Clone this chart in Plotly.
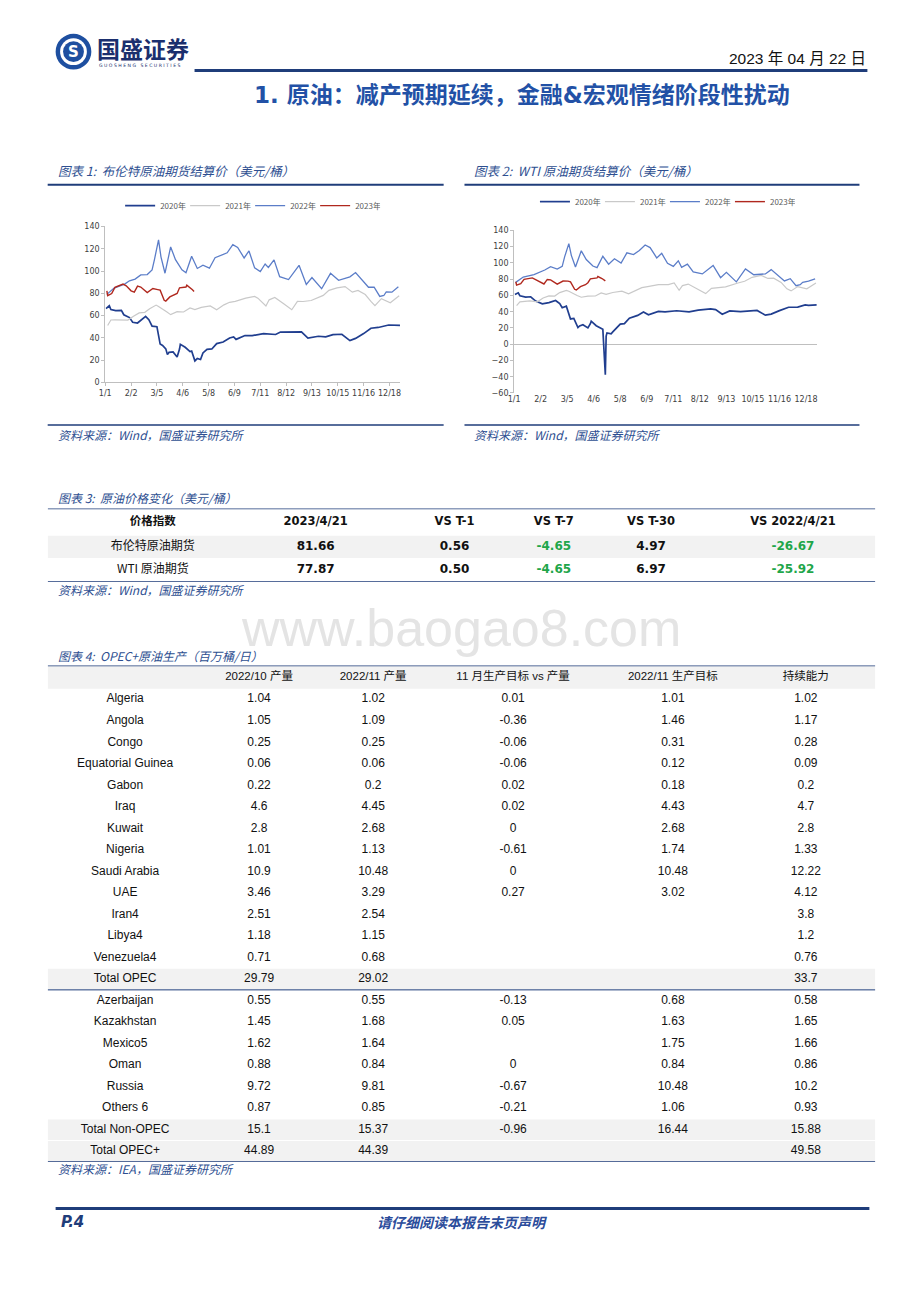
import plotly.graph_objects as go

# ---------------- DATA ----------------
TICK_DAYS = [0, 32, 64, 96, 128, 160, 192, 224, 256, 288, 320, 352]
TICK_LABELS = ["1/1", "2/2", "3/5", "4/6", "5/8", "6/9", "7/11", "8/12", "9/13", "10/15", "11/16", "12/18"]
SERIES_NAMES = ["2020年", "2021年", "2022年", "2023年"]

BRENT_2020_DAY = [1, 5, 7, 13, 20, 23, 30, 34, 40, 50, 54, 58, 64, 68, 71, 75, 77, 79, 84, 89, 92, 93, 99, 105, 107, 111, 114, 118, 121, 126, 132, 138, 146, 154, 159, 162, 173, 182, 196, 211, 217, 232, 243, 251, 258, 264, 273, 282, 293, 303, 310, 320, 329, 338, 351, 357, 365]
BRENT_2020_VAL = [66.3, 68.9, 65.4, 64.5, 64.6, 60.7, 58.2, 54.0, 53.3, 59.3, 56.3, 50.5, 50.0, 34.4, 33.2, 30.1, 24.9, 27.0, 27.4, 22.8, 29.9, 34.1, 31.5, 27.7, 28.1, 19.3, 21.4, 20.5, 26.4, 29.7, 30.0, 34.8, 36.2, 39.8, 40.8, 38.6, 42.1, 42.0, 43.8, 43.0, 45.2, 44.9, 45.3, 39.8, 40.5, 41.4, 40.9, 42.9, 43.2, 37.5, 39.5, 43.8, 48.6, 49.3, 51.5, 51.2, 51.1]
BRENT_2021_DAY = [3, 7, 12, 20, 28, 35, 42, 49, 55, 63, 66, 76, 81, 89, 97, 105, 111, 119, 130, 138, 147, 154, 161, 174, 185, 189, 199, 203, 210, 221, 231, 238, 245, 255, 270, 277, 287, 297, 306, 313, 322, 329, 334, 342, 353, 364]
BRENT_2021_VAL = [51.1, 56.0, 56.1, 56.1, 55.9, 59.3, 62.4, 62.9, 66.1, 69.4, 68.2, 63.3, 60.8, 63.5, 63.2, 66.8, 65.4, 67.3, 68.6, 65.1, 69.6, 71.9, 72.7, 75.6, 77.2, 75.6, 68.6, 74.1, 76.3, 70.6, 65.2, 72.7, 72.6, 73.5, 78.1, 82.6, 84.9, 86.0, 81.0, 82.6, 78.9, 72.7, 68.9, 75.2, 71.5, 77.8]
BRENT_2022_DAY = [2, 11, 24, 30, 37, 44, 52, 58, 61, 66, 69, 74, 81, 87, 95, 100, 107, 114, 121, 129, 136, 144, 151, 158, 164, 172, 178, 185, 192, 198, 202, 209, 216, 227, 240, 249, 256, 268, 279, 289, 303, 310, 317, 326, 333, 340, 345, 348, 355, 363]
BRENT_2022_VAL = [79.0, 84.7, 88.2, 91.2, 92.7, 96.5, 96.8, 101.0, 110.5, 128.0, 112.7, 98.0, 121.6, 110.2, 101.1, 98.5, 113.2, 102.3, 105.2, 102.5, 111.9, 114.0, 116.3, 123.6, 121.2, 111.7, 118.0, 102.8, 99.5, 106.3, 103.2, 110.0, 94.9, 92.3, 105.1, 88.0, 94.1, 84.1, 97.9, 91.6, 94.8, 98.6, 93.1, 85.4, 85.4, 77.2, 78.0, 81.2, 81.0, 85.9]
BRENT_2023_DAY = [2, 3, 8, 12, 22, 26, 32, 36, 40, 44, 52, 59, 65, 68, 73, 75, 80, 86, 89, 92, 100, 101, 106, 108, 110]
BRENT_2023_VAL = [82.1, 77.8, 79.7, 85.3, 88.2, 86.7, 82.2, 81.0, 86.4, 85.6, 80.6, 84.3, 83.3, 82.8, 73.7, 73.0, 76.7, 78.7, 79.8, 84.9, 85.6, 87.3, 84.8, 83.1, 81.66]

WTI_2020_DAY = [1, 5, 7, 14, 20, 26, 34, 42, 50, 55, 58, 63, 68, 72, 77, 79, 83, 89, 92, 93, 99, 104, 107, 110, 111, 112, 117, 119, 124, 128, 133, 139, 149, 156, 162, 174, 182, 196, 211, 222, 237, 243, 251, 260, 273, 282, 293, 303, 310, 320, 331, 342, 351, 355, 365]
WTI_2020_VAL = [61.2, 63.3, 59.6, 58.0, 58.4, 53.1, 49.6, 51.2, 53.8, 49.9, 44.8, 46.8, 31.1, 31.7, 20.4, 22.4, 24.0, 20.1, 25.3, 28.3, 22.8, 20.1, 18.3, -37.6, 10.0, 13.8, 12.8, 15.1, 20.4, 24.7, 25.3, 32.0, 35.5, 39.6, 36.3, 40.4, 39.8, 41.2, 39.9, 41.9, 43.4, 42.6, 36.8, 41.0, 40.2, 40.6, 41.5, 35.8, 37.1, 41.3, 45.5, 45.6, 48.4, 47.7, 48.5]
WTI_2021_DAY = [3, 7, 19, 28, 35, 42, 49, 55, 63, 66, 76, 81, 89, 98, 105, 111, 119, 130, 138, 147, 154, 161, 174, 186, 193, 199, 203, 210, 221, 231, 238, 245, 255, 270, 278, 287, 298, 306, 313, 322, 329, 334, 342, 353, 364]
WTI_2021_VAL = [47.6, 52.2, 53.3, 52.2, 56.9, 59.5, 59.2, 63.5, 66.1, 65.1, 60.0, 57.8, 59.2, 59.3, 63.1, 61.4, 63.6, 65.3, 62.1, 66.3, 69.6, 70.9, 73.3, 73.4, 75.3, 66.4, 72.1, 74.0, 68.3, 62.3, 68.7, 69.3, 70.5, 75.3, 77.4, 82.3, 84.7, 80.9, 81.3, 76.1, 68.2, 65.6, 70.9, 68.2, 75.2]
WTI_2022_DAY = [2, 11, 24, 30, 37, 44, 52, 58, 61, 66, 69, 74, 81, 87, 95, 100, 107, 114, 121, 129, 136, 144, 151, 158, 164, 172, 178, 185, 192, 198, 202, 209, 216, 227, 240, 249, 256, 268, 279, 289, 303, 310, 317, 326, 333, 340, 345, 348, 355, 363]
WTI_2022_VAL = [76.1, 82.6, 85.6, 88.2, 91.3, 95.5, 92.4, 95.7, 107.7, 123.7, 109.3, 95.0, 114.9, 104.2, 96.2, 94.3, 108.2, 98.5, 105.2, 99.8, 112.4, 110.3, 115.3, 122.1, 118.9, 106.2, 111.8, 99.5, 95.8, 102.6, 94.7, 98.6, 89.0, 86.5, 97.0, 81.9, 88.5, 76.7, 92.6, 85.5, 86.5, 91.8, 85.9, 77.9, 80.6, 72.0, 73.2, 76.1, 77.5, 80.3]
WTI_2023_DAY = [2, 3, 8, 12, 22, 26, 32, 36, 40, 44, 52, 59, 65, 68, 73, 75, 80, 86, 89, 92, 100, 101, 106, 108, 110]
WTI_2023_VAL = [76.9, 72.8, 74.6, 79.9, 81.6, 79.7, 75.9, 74.1, 79.7, 79.1, 74.0, 77.7, 77.6, 76.7, 67.6, 66.7, 70.9, 73.2, 75.7, 80.4, 81.5, 83.3, 80.8, 79.2, 77.87]

# Table 3
T3_HEADER = ["价格指数", "2023/4/21", "VS T-1", "VS T-7", "VS T-30", "VS 2022/4/21"]
T3_NAMES = ["布伦特原油期货", "WTI 原油期货"]
T3_PRICE = [81.66, 77.87]
T3_VS_T1 = [0.56, 0.50]
T3_VS_T7 = [-4.65, -4.65]
T3_VS_T30 = [4.97, 6.97]
T3_VS_YOY = [-26.67, -25.92]

# Table 4
T4_HEADER = ["", "2022/10 产量", "2022/11 产量", "11 月生产目标 vs 产量", "2022/11 生产目标", "持续能力"]
COUNTRIES = ["Algeria", "Angola", "Congo", "Equatorial Guinea", "Gabon", "Iraq", "Kuwait", "Nigeria",
             "Saudi Arabia", "UAE", "Iran4", "Libya4", "Venezuela4", "Total OPEC", "Azerbaijan",
             "Kazakhstan", "Mexico5", "Oman", "Russia", "Others 6", "Total Non-OPEC", "Total OPEC+"]
PROD_2022_10 = [1.04, 1.05, 0.25, 0.06, 0.22, 4.6, 2.8, 1.01, 10.9, 3.46, 2.51, 1.18, 0.71, 29.79, 0.55, 1.45, 1.62, 0.88, 9.72, 0.87, 15.1, 44.89]
PROD_2022_11 = [1.02, 1.09, 0.25, 0.06, 0.2, 4.45, 2.68, 1.13, 10.48, 3.29, 2.54, 1.15, 0.68, 29.02, 0.55, 1.68, 1.64, 0.84, 9.81, 0.85, 15.37, 44.39]
TARGET_VS_PROD = [0.01, -0.36, -0.06, -0.06, 0.02, 0.02, 0, -0.61, 0, 0.27, None, None, None, None, -0.13, 0.05, None, 0, -0.67, -0.21, -0.96, None]
TARGET_2022_11 = [1.01, 1.46, 0.31, 0.12, 0.18, 4.43, 2.68, 1.74, 10.48, 3.02, None, None, None, None, 0.68, 1.63, 1.75, 0.84, 10.48, 1.06, 16.44, None]
CAPACITY = [1.02, 1.17, 0.28, 0.09, 0.2, 4.7, 2.8, 1.33, 12.22, 4.12, 3.8, 1.2, 0.76, 33.7, 0.58, 1.65, 1.66, 0.86, 10.2, 0.93, 15.88, 49.58]
T4_SHADED = ["Total OPEC", "Total Non-OPEC", "Total OPEC+"]

# ---------------- STYLE ----------------
W, H = 920, 1302
NAVY = "#1F3D7A"
TITLE_BLUE = "#2251A6"
CAP_BLUE = "#2E4F91"
GRAY_BG = "#F2F2F2"
GREEN = "#1FA64A"
CJK = "Noto Sans CJK SC"
LAT = "Liberation Sans"
VER = "DejaVu Sans"
COLORS = ["#203E8F", "#C9C9C9", "#5B7DC8", "#B0281E"]
WIDTHS = [1.7, 1.2, 1.3, 1.4]


def X(px):
    return px / W


def Y(py):
    return 1 - py / H


fig = go.Figure()

# ---------------- LINE CHARTS ----------------
brent = [(BRENT_2020_DAY, BRENT_2020_VAL), (BRENT_2021_DAY, BRENT_2021_VAL),
         (BRENT_2022_DAY, BRENT_2022_VAL), (BRENT_2023_DAY, BRENT_2023_VAL)]
wti = [(WTI_2020_DAY, WTI_2020_VAL), (WTI_2021_DAY, WTI_2021_VAL),
       (WTI_2022_DAY, WTI_2022_VAL), (WTI_2023_DAY, WTI_2023_VAL)]

for i, (d, v) in enumerate(brent):
    fig.add_trace(go.Scatter(x=d, y=v, mode="lines", name=SERIES_NAMES[i],
                             line=dict(color=COLORS[i], width=WIDTHS[i]),
                             xaxis="x", yaxis="y", legend="legend", hoverinfo="skip"))
for i, (d, v) in enumerate(wti):
    fig.add_trace(go.Scatter(x=d, y=v, mode="lines", name=SERIES_NAMES[i],
                             line=dict(color=COLORS[i], width=WIDTHS[i]),
                             xaxis="x2", yaxis="y2", legend="legend2", hoverinfo="skip"))

tickfont = dict(family=VER, size=8, color="#404040")
axis_common = dict(showgrid=False, showline=True, linecolor="#BFBFBF", linewidth=1,
                   ticks="outside", ticklen=3, tickcolor="#BFBFBF", tickfont=tickfont)

fig.update_layout(
    xaxis=dict(domain=[X(100), X(397)], range=[0, 365], tickvals=TICK_DAYS, ticktext=TICK_LABELS,
               tickangle=0, anchor="y", zeroline=False, **axis_common),
    yaxis=dict(domain=[Y(381), Y(224)], range=[0, 140], dtick=20, anchor="x", zeroline=False,
               **axis_common),
    xaxis2=dict(domain=[X(512), X(817)], range=[0, 365], tickvals=TICK_DAYS, ticktext=TICK_LABELS,
                tickangle=0, anchor="y2", zeroline=False, showgrid=False, showline=False, ticks="",
                tickfont=tickfont),
    yaxis2=dict(domain=[Y(391.7), Y(228)], range=[-60, 140], dtick=20, anchor="x2",
                zeroline=True, zerolinecolor="#BFBFBF", zerolinewidth=1, **axis_common),
)

legend_common = dict(orientation="h", xanchor="center", yanchor="middle", itemwidth=30,
                     entrywidth=20, entrywidthmode="pixels",
                     font=dict(family=CJK, size=8, color="#595959"), bgcolor="rgba(0,0,0,0)",
                     tracegroupgap=0, itemclick=False)
fig.update_layout(legend=dict(x=X(246), y=Y(203), **legend_common),
                  legend2=dict(x=X(664), y=Y(199), **legend_common))

# ---------------- TABLE 3 ----------------
T3_COLS = [148, 312, 452, 552, 650, 793]
T3_TOP, T3_HDR, T3_BOT = 508, 535.5, 582
t3_rh = (T3_BOT - T3_HDR) / len(T3_NAMES)
t3_row_y = [T3_HDR + t3_rh * (i + 0.5) for i in range(len(T3_NAMES))]

fig.add_trace(go.Scatter(x=T3_COLS, y=[(T3_TOP + T3_HDR) / 2] * 6, mode="text", text=T3_HEADER,
                         textfont=dict(family=f"{VER}, {CJK}", size=11.5, color="#111", weight="bold"),
                         xaxis="x3", yaxis="y3", showlegend=False, hoverinfo="skip"))
fig.add_trace(go.Scatter(x=[T3_COLS[0]] * 2, y=t3_row_y, mode="text", text=T3_NAMES,
                         textfont=dict(family=CJK, size=12, color="#111"),
                         xaxis="x3", yaxis="y3", showlegend=False, hoverinfo="skip"))
for ci, col in enumerate([T3_PRICE, T3_VS_T1, T3_VS_T7, T3_VS_T30, T3_VS_YOY]):
    fig.add_trace(go.Scatter(
        x=[T3_COLS[ci + 1]] * len(col), y=t3_row_y, mode="text",
        text=[f"{v:.2f}" for v in col],
        textfont=dict(family=VER, size=12, weight="bold",
                      color=[GREEN if v < 0 else "#111" for v in col]),
        xaxis="x3", yaxis="y3", showlegend=False, hoverinfo="skip"))

hidden = dict(visible=False, showgrid=False, zeroline=False, fixedrange=True)
fig.update_layout(
    xaxis3=dict(domain=[X(42), X(876)], range=[42, 876], anchor="y3", **hidden),
    yaxis3=dict(domain=[Y(T3_BOT), Y(T3_TOP)], range=[T3_BOT, T3_TOP], anchor="x3", **hidden),
)

shapes = []
shapes.append(dict(type="rect", xref="x3", yref="y3", x0=42, x1=876, y0=T3_HDR, y1=T3_HDR + t3_rh - 1,
                   fillcolor=GRAY_BG, line_width=0, layer="below"))
shapes.append(dict(type="line", xref="x3", yref="y3", x0=42, x1=876, y0=T3_TOP, y1=T3_TOP,
                   line=dict(color=NAVY, width=1.5)))
shapes.append(dict(type="line", xref="x3", yref="y3", x0=42, x1=876, y0=T3_BOT, y1=T3_BOT,
                   line=dict(color=NAVY, width=1.5)))

# ---------------- TABLE 4 ----------------
T4_COLS = [120, 255, 370, 511, 672, 806]
T4_TOP, T4_HDR, T4_BOT = 666, 689.5, 1166
t4_rh = (T4_BOT - T4_HDR) / len(COUNTRIES)
t4_row_y = [T4_HDR + t4_rh * (i + 0.5) for i in range(len(COUNTRIES))]

fig.add_trace(go.Scatter(x=T4_COLS[1:], y=[(T4_TOP + T4_HDR) / 2] * 5, mode="text", text=T4_HEADER[1:],
                         textfont=dict(family=f"{LAT}, {CJK}", size=11.5, color="#111"),
                         xaxis="x4", yaxis="y4", showlegend=False, hoverinfo="skip"))
fig.add_trace(go.Scatter(x=[T4_COLS[0]] * len(COUNTRIES), y=t4_row_y, mode="text", text=COUNTRIES,
                         textfont=dict(family=LAT, size=12, color="#111"),
                         xaxis="x4", yaxis="y4", showlegend=False, hoverinfo="skip"))
for ci, col in enumerate([PROD_2022_10, PROD_2022_11, TARGET_VS_PROD, TARGET_2022_11, CAPACITY]):
    fig.add_trace(go.Scatter(
        x=[T4_COLS[ci + 1]] * len(col), y=t4_row_y, mode="text",
        text=["" if v is None else f"{v:g}" for v in col],
        textfont=dict(family=LAT, size=12, color="#111"),
        xaxis="x4", yaxis="y4", showlegend=False, hoverinfo="skip"))

fig.update_layout(
    xaxis4=dict(domain=[X(42), X(876)], range=[42, 876], anchor="y4", **hidden),
    yaxis4=dict(domain=[Y(T4_BOT), Y(T4_TOP)], range=[T4_BOT, T4_TOP], anchor="x4", **hidden),
)

shapes.append(dict(type="rect", xref="x4", yref="y4", x0=42, x1=876, y0=T4_TOP, y1=T4_HDR,
                   fillcolor=GRAY_BG, line_width=0, layer="below"))
for name in T4_SHADED:
    i = COUNTRIES.index(name)
    shapes.append(dict(type="rect", xref="x4", yref="y4", x0=42, x1=876,
                       y0=T4_HDR + t4_rh * i + 0.5, y1=T4_HDR + t4_rh * (i + 1) - 0.5,
                       fillcolor=GRAY_BG, line_width=0, layer="below"))
sep = T4_HDR + t4_rh * (COUNTRIES.index("Total OPEC") + 1)
for yy, wdt in [(T4_TOP, 1.5), (sep, 1), (T4_BOT, 1.5)]:
    shapes.append(dict(type="line", xref="x4", yref="y4", x0=42, x1=876, y0=yy, y1=yy,
                       line=dict(color=NAVY, width=wdt)))

# ---------------- PAGE DECORATION ----------------
def pline(x0, x1, y, w, color=NAVY):
    shapes.append(dict(type="line", xref="paper", yref="paper", x0=X(x0), x1=X(x1), y0=Y(y), y1=Y(y),
                       line=dict(color=color, width=w)))


pline(190, 868, 67, 3)            # header rule
pline(42, 441, 182, 2)            # chart 1 caption rule
pline(462, 860, 182, 2)           # chart 2 caption rule
pline(42, 441, 424, 1.5)          # chart 1 source rule
pline(462, 860, 424, 1.5)         # chart 2 source rule
pline(50, 870, 1213, 3)           # footer rule

# logo
for (r, col) in [(18, "#1E4FA0"), (13.5, "white"), (10.5, "#1E4FA0")]:
    shapes.append(dict(type="circle", xref="paper", yref="paper",
                       x0=X(68 - r), x1=X(68 + r), y0=Y(48 + r), y1=Y(48 - r),
                       fillcolor=col, line_width=0))

fig.update_layout(shapes=shapes)

ann = []


def text(x, y, s, size, color="#111", family=CJK, xanchor="left", weight="normal", style="normal"):
    ann.append(dict(x=X(x), y=Y(y), xref="paper", yref="paper", text=s, showarrow=False,
                    xanchor=xanchor, yanchor="middle",
                    font=dict(family=family, size=size, color=color, weight=weight, style=style)))


text(68, 48, "S", 15, "white", VER, "center", "bold")
text(90, 44, "国盛证券", 23, "#1B2F6E", CJK, "left", "bold")
text(92, 62, "G U O S H E N G   S E C U R I T I E S", 4.6, "#1B2F6E", VER, "left")
text(869, 55, "2023 年 04 月 22 日", 15.5, "#111", f"{LAT}, {CJK}", "right")
text(520, 92, "1. 原油：减产预期延续，金融&宏观情绪阶段性扰动", 23, TITLE_BLUE, f"{VER}, {CJK}", "center", "bold")

text(50, 168, "图表 1:  布伦特原油期货结算价（美元/桶）", 12.5, CAP_BLUE, CJK, style="italic")
text(470, 168, "图表 2:  WTI 原油期货结算价（美元/桶）", 12.5, CAP_BLUE, CJK, style="italic")
text(50, 433, "资料来源：Wind，国盛证券研究所", 12, CAP_BLUE, CJK, style="italic")
text(470, 433, "资料来源：Wind，国盛证券研究所", 12, CAP_BLUE, CJK, style="italic")

text(50, 497, "图表 3:  原油价格变化（美元/桶）", 12, CAP_BLUE, CJK, style="italic")
text(50, 590, "资料来源：Wind，国盛证券研究所", 12, CAP_BLUE, CJK, style="italic")
text(458, 628, "www.baogao8.com", 52, "#E4E4E4", LAT, "center")
text(50, 656, "图表 4:  OPEC+原油生产（百万桶/日）", 12, CAP_BLUE, CJK, style="italic")
text(50, 1173, "资料来源：IEA，国盛证券研究所", 12, CAP_BLUE, CJK, style="italic")

text(53, 1226, "P.4", 15, NAVY, VER, "left", "bold", "italic")
text(460, 1226, "请仔细阅读本报告末页声明", 14, "#2B4C9B", CJK, "center", "bold", "italic")

fig.update_layout(annotations=ann, width=W, height=H, margin=dict(l=0, r=0, t=0, b=0),
                  paper_bgcolor="white", plot_bgcolor="white", hovermode=False)

fig.write_html("out.html", config={"displayModeBar": False, "staticPlot": True},
               post_script="document.body.style.margin='0';document.body.style.padding='0';")
